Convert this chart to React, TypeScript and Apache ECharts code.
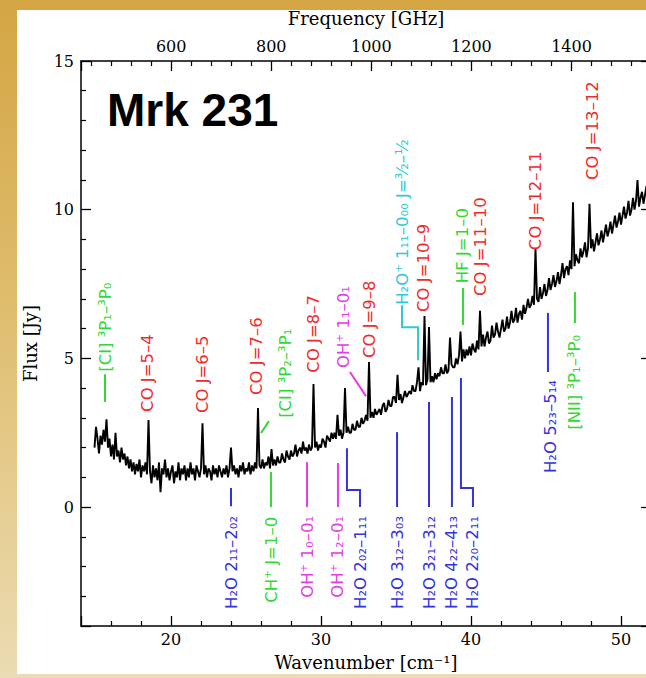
import { useEffect, useRef } from "react";
import * as echarts from "echarts";

// 1 cm^-1 corresponds to this many GHz
const GHZ_PER_WAVENUMBER = 29.9792458;

// Axis ranges
const WN_MIN = 14;
const WN_MAX = 52;
const FLUX_MIN = -4;
const FLUX_MAX = 15;

// Observed spectrum of Mrk 231, sampled every 0.1 cm^-1 starting at 14.9 cm^-1 (flux in Jy)
const SPEC_START = 14.9;
const SPEC_STEP = 0.1;
const flux: number[] = [
  2.0, 2.7, 2.3, 1.8, 2.4, 2.1, 2.6, 2.2, 2.95, 2.0,
  2.3, 1.7, 2.1, 1.6, 2.5, 1.7, 1.9, 1.5, 2.0, 1.6,
  1.8, 1.4, 1.7, 1.3, 1.6, 1.2, 1.5, 1.1, 1.45, 1.2,
  1.6, 1.0, 1.4, 1.2, 1.5, 1.1, 2.93, 1.2, 0.8, 1.4,
  1.0, 1.3, 0.9, 1.5, 0.5, 1.3, 1.1, 1.6, 1.0, 1.3,
  0.9, 1.2, 1.4, 0.8, 1.2, 1.0, 1.5, 0.9, 1.3, 1.1,
  1.4, 0.9, 1.3, 1.0, 1.5, 1.1, 1.3, 0.9, 1.4, 1.2,
  1.0, 1.3, 2.82, 1.1, 1.4, 1.0, 1.3, 1.2, 0.9, 1.4,
  1.1, 1.3, 1.0, 1.4, 1.2, 1.0, 1.3, 1.1, 1.4, 1.0,
  1.3, 2.0, 1.2, 1.4, 1.1, 1.3, 1.0, 1.4, 1.2, 1.5,
  1.1, 1.3, 1.2, 1.5, 1.1, 1.4, 1.2, 1.5, 1.3, 3.33,
  1.4, 1.3, 1.6, 1.3, 1.5, 1.4, 1.7, 1.3, 1.95, 1.4,
  1.6, 1.4, 1.7, 1.5, 1.5, 1.8, 1.6, 1.5, 1.9, 1.7,
  1.6, 1.9, 1.7, 1.8, 2.1, 1.7, 1.9, 2.0, 1.8, 2.2,
  1.9, 2.0, 1.8, 2.1, 1.9, 2.0, 4.14, 2.0, 2.2, 1.9,
  2.1, 2.0, 2.3, 2.2, 2.0, 2.4, 2.3, 2.2, 2.5, 2.3,
  2.5, 2.3, 3.1, 2.4, 2.6, 2.3, 2.5, 4.0, 2.5, 2.7,
  2.5, 2.5, 2.8, 2.6, 2.6, 2.9, 2.7, 2.7, 3.0, 2.8,
  2.9, 3.1, 2.9, 4.88, 3.0, 3.2, 3.0, 3.3, 3.1, 3.2,
  3.3, 3.1, 3.4, 3.5, 3.2, 3.3, 3.6, 3.4, 3.4, 3.7,
  3.7, 3.5, 4.45, 3.6, 3.8, 3.5, 3.7, 3.9, 3.7, 3.8,
  3.9, 3.8, 4.1, 3.9, 3.9, 4.2, 4.7, 3.9, 4.2, 4.1,
  6.42, 4.1, 4.3, 6.05, 4.2, 4.4, 4.2, 4.5, 4.3, 4.5,
  4.4, 4.7, 4.5, 4.5, 4.8, 4.5, 4.6, 5.7, 4.8, 4.7,
  4.7, 5.0, 4.8, 5.1, 5.9, 4.9, 5.3, 5.0, 5.3, 5.1,
  5.4, 5.1, 5.5, 5.3, 5.2, 5.6, 5.3, 6.6, 5.4, 5.8,
  5.4, 5.7, 5.9, 5.5, 5.6, 6.1, 5.7, 5.8, 6.2, 5.9,
  5.7, 6.0, 6.3, 5.9, 6.0, 6.4, 6.0, 6.2, 6.6, 6.2,
  6.3, 6.7, 6.2, 6.5, 6.6, 6.3, 6.8, 6.5, 6.7, 7.0,
  6.7, 6.8, 7.1, 6.8, 8.7, 7.0, 6.9, 7.4, 7.0, 7.2,
  7.5, 7.1, 7.3, 7.7, 7.3, 7.5, 7.8, 7.4, 7.6, 7.9,
  7.5, 7.8, 8.2, 7.7, 8.0, 8.1, 7.8, 8.3, 8.0, 10.25,
  8.1, 8.5, 8.3, 8.2, 8.7, 8.4, 8.6, 8.9, 8.4, 8.7,
  10.2, 8.7, 9.0, 8.6, 8.9, 9.2, 8.8, 9.0, 9.3, 8.9,
  9.2, 9.5, 9.1, 9.3, 9.6, 9.2, 9.5, 9.8, 9.4, 9.6,
  9.9, 9.5, 9.8, 10.1, 9.7, 9.9, 10.3, 9.8, 10.0, 10.4,
  10.0, 10.3, 11.0, 10.1, 10.4, 10.6, 10.2, 10.5, 10.8, 10.4,
  10.6, 10.9, 10.5, 10.8,
];

type Kind = "CO" | "atom" | "OHp" | "H2O" | "H2Op";

// Lines labelled above the spectrum: [wavenumber, flux where the text begins, text, species]
const labelsAbove: [number, number, string, Kind][] = [
  [15.6, 4.55, "[CI] ³P₁–³P₀", "atom"],
  [18.4, 3.2, "CO J=5–4", "CO"],
  [22.07, 3.16, "CO J=6–5", "CO"],
  [25.73, 3.77, "CO J=7–6", "CO"],
  [27.6, 3.0, "[CI] ³P₂–³P₁", "atom"],
  [29.53, 4.52, "CO J=8–7", "CO"],
  [31.53, 4.68, "OH⁺ 1₁–0₁", "OHp"],
  [33.2, 5.01, "CO J=9–8", "CO"],
  [35.4, 6.8, "H₂O⁺ 1₁₁–0₀₀ J=³⁄₂–¹⁄₂", "H2Op"],
  [36.8, 6.56, "CO J=10–9", "CO"],
  [39.45, 7.53, "HF J=1–0", "atom"],
  [40.6, 7.1, "CO J=11–10", "CO"],
  [44.27, 8.64, "CO J=12–11", "CO"],
  [48.07, 11.0, "CO J=13–12", "CO"],
];

// Lines labelled below their leader: [wavenumber, flux where the text ends, text, species]
const labelsBelow: [number, number, string, Kind][] = [
  [24.0, -0.3, "H₂O 2₁₁–2₀₂", "H2O"],
  [26.67, -0.33, "CH⁺ J=1–0", "atom"],
  [29.07, -0.3, "OH⁺ 1₀–0₁", "OHp"],
  [31.13, -0.3, "OH⁺ 1₂–0₁", "OHp"],
  [32.6, -0.3, "H₂O 2₀₂–1₁₁", "H2O"],
  [35.07, -0.3, "H₂O 3₁₂–3₀₃", "H2O"],
  [37.2, -0.3, "H₂O 3₂₁–3₁₂", "H2O"],
  [38.73, -0.3, "H₂O 4₂₂–4₁₃", "H2O"],
  [40.13, -0.3, "H₂O 2₂₀–2₁₁", "H2O"],
  [45.27, 4.27, "H₂O 5₂₃–5₁₄", "H2O"],
  [46.93, 5.79, "[NII] ³P₁–³P₀", "atom"],
];

// Leader lines tying labels to their lines: species and vertices in (wavenumber, flux)
const leaderKinds: Kind[] = [
  "atom", "atom", "OHp", "H2Op", "atom",
  "H2O", "atom", "OHp", "OHp", "H2O", "H2O", "H2O", "H2O", "H2O", "H2O", "atom",
];
const leaderPoints: [number, number][][] = [
  [[15.6, 3.53], [15.6, 4.47]],
  [[26.0, 2.49], [26.53, 2.89]],
  [[31.93, 4.54], [33.0, 3.73]],
  [[35.4, 6.79], [35.4, 6.05], [36.47, 6.05], [36.47, 4.94]],
  [[39.47, 6.12], [39.47, 7.37]],
  [[24.0, 0.64], [24.0, 0.03]],
  [[26.67, 1.18], [26.67, 0.0]],
  [[29.07, 1.51], [29.07, 0.0]],
  [[31.13, 1.48], [31.13, 0.0]],
  [[31.73, 1.98], [31.73, 0.57], [32.6, 0.57], [32.6, 0.0]],
  [[35.07, 2.52], [35.07, 0.0]],
  [[37.2, 3.53], [37.2, 0.0]],
  [[38.73, 3.7], [38.73, 0.0]],
  [[39.33, 4.34], [39.33, 0.64], [40.13, 0.64], [40.13, 0.0]],
  [[45.13, 6.53], [45.13, 4.54]],
  [[46.93, 7.23], [46.93, 6.19]],
];

const kindColor: Record<Kind, string> = {
  CO: "#f22a2a",
  atom: "#34d834",
  OHp: "#e43ce4",
  H2O: "#3232de",
  H2Op: "#2ccad8",
};

const SERIF = '"DejaVu Serif", serif';
const SANS = '"DejaVu Sans", sans-serif';
const LABEL_SIZE = 16.5;

function annotationText(
  list: [number, number, string, Kind][],
  align: "left" | "right"
) {
  return {
    type: "custom" as const,
    coordinateSystem: "cartesian2d",
    silent: true,
    z: 5,
    data: list.map((l) => [l[0], l[1]]),
    renderItem: (params: any, api: any) => {
      const item = list[params.dataIndex];
      const p = api.coord([api.value(0), api.value(1)]);
      return {
        type: "text",
        x: p[0],
        y: p[1],
        rotation: Math.PI / 2,
        style: {
          text: item[2],
          fill: kindColor[item[3]],
          fontSize: LABEL_SIZE,
          fontFamily: SANS,
          align,
          verticalAlign: "middle",
        },
      };
    },
  };
}

function axisCommon() {
  return {
    type: "value" as const,
    axisLine: { show: true, onZero: false, lineStyle: { color: "#000", width: 1.5 } },
    axisTick: { show: true, inside: true, length: 10, lineStyle: { color: "#000", width: 1.3 } },
    minorTick: { show: true, splitNumber: 5, length: 5, lineStyle: { color: "#000", width: 1.2 } },
    splitLine: { show: false },
    minorSplitLine: { show: false },
    axisLabel: {
      color: "#000",
      fontFamily: SERIF,
      fontSize: 16,
      margin: 7,
      showMinLabel: false,
      showMaxLabel: false,
      formatter: (v: number) => String(Math.round(v)),
    },
    nameLocation: "middle" as const,
    nameMoveOverlap: false,
    nameTextStyle: { color: "#000", fontFamily: SERIF, fontSize: 18 },
  };
}

export default function App() {
  const ref = useRef<HTMLDivElement>(null);

  useEffect(() => {
    if (!ref.current) return;
    const chart = echarts.init(ref.current, undefined, { renderer: "svg" });

    const spectrum = flux.map((f, i) => [
      Math.round((SPEC_START + i * SPEC_STEP) * 100) / 100,
      f,
    ]);

    const common = axisCommon();

    const option: any = {
      animation: false,
      backgroundColor: "transparent",
      grid: {
        left: 81,
        top: 61,
        width: (WN_MAX - WN_MIN) * 15,
        height: 565,
        containLabel: false,
        outerBoundsMode: "none",
      },
      xAxis: [
        {
          ...common,
          position: "bottom",
          min: WN_MIN,
          max: WN_MAX,
          axisLabel: { ...common.axisLabel, margin: 5 },
          name: "Wavenumber [cm⁻¹]",
          nameGap: 27,
        },
        {
          ...common,
          position: "top",
          min: WN_MIN * GHZ_PER_WAVENUMBER,
          max: WN_MAX * GHZ_PER_WAVENUMBER,
          name: "Frequency [GHz]",
          nameGap: 34,
        },
      ],
      yAxis: [
        {
          ...common,
          position: "left",
          min: FLUX_MIN,
          max: FLUX_MAX,
          splitNumber: 4,
          axisLabel: { ...common.axisLabel, showMaxLabel: true },
          name: "Flux [Jy]",
          nameGap: 42,
        },
        {
          ...common,
          position: "right",
          min: FLUX_MIN,
          max: FLUX_MAX,
          splitNumber: 4,
          axisLabel: { show: false },
        },
      ],
      graphic: [
        {
          type: "text",
          x: 107,
          y: 110,
          style: {
            text: "Mrk 231",
            fill: "#000",
            fontSize: 46,
            fontWeight: "bold",
            fontFamily: '"Liberation Sans", Arial, sans-serif',
            align: "left",
            verticalAlign: "middle",
          },
        },
      ],
      series: [
        {
          type: "line",
          xAxisIndex: 0,
          yAxisIndex: 0,
          data: spectrum,
          showSymbol: false,
          symbol: "none",
          silent: true,
          z: 3,
          lineStyle: { color: "#000", width: 1.9 },
        },
        {
          type: "custom",
          coordinateSystem: "cartesian2d",
          silent: true,
          z: 4,
          data: leaderPoints.map((pts) => pts[0]),
          renderItem: (params: any, api: any) => {
            const pts = leaderPoints[params.dataIndex].map((p) => api.coord(p));
            return {
              type: "polyline",
              shape: { points: pts },
              style: {
                stroke: kindColor[leaderKinds[params.dataIndex]],
                lineWidth: 2,
                fill: null,
              },
            };
          },
        },
        annotationText(labelsAbove, "left"),
        annotationText(labelsBelow, "right"),
      ],
    };

    chart.setOption(option);
    return () => chart.dispose();
  }, []);

  return (
    <div
      style={{
        position: "fixed",
        left: 0,
        top: 0,
        width: 646,
        height: 678,
        overflow: "hidden",
        background: "linear-gradient(to bottom, #d4a543 0%, #dfbd6e 45%, #ecdcb3 100%)",
      }}
    >
      <div
        style={{
          position: "absolute",
          left: 17,
          top: 10,
          right: 0,
          bottom: 4,
          background: "#ffffff",
        }}
      />
      <div
        ref={ref}
        style={{ position: "absolute", left: 0, top: 0, width: 646, height: 678 }}
      />
    </div>
  );
}
